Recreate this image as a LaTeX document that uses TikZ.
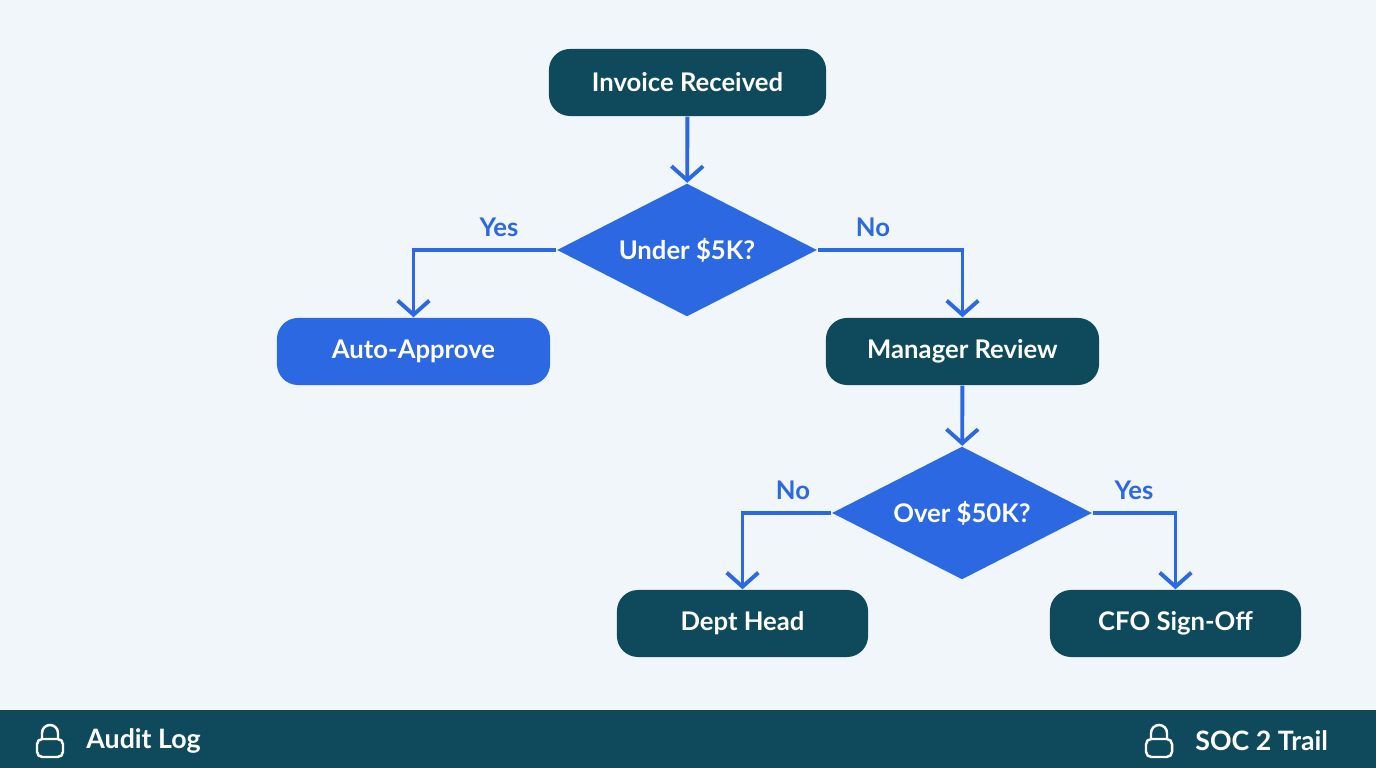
\documentclass[tikz,border=0pt]{standalone}
\usepackage{fontspec}
\setmainfont{Lato}
\usetikzlibrary{shapes.geometric,arrows.meta}
\definecolor{bgc}{HTML}{F1F6FA}
\definecolor{teal}{HTML}{0E4A5C}
\definecolor{blu}{HTML}{2B68E2}
\tikzset{
  box/.style={rectangle, rounded corners=6pt, fill=teal, text=white, minimum height=0.67cm, font=\fontsize{7.3}{9}\selectfont\bfseries},
  bbox/.style={box, fill=blu},
  dec/.style={diamond, aspect=1.95, fill=blu, text=white, inner sep=0pt, minimum width=2.6cm, minimum height=1.33cm, font=\fontsize{7.3}{9}\selectfont\bfseries},
  flow/.style={draw=blu, line width=1.1pt, -{Straight Barb[length=4pt,width=9pt,line width=1.1pt]}},
  lbl/.style={text=blu, font=\fontsize{7.3}{9}\selectfont\bfseries},
  foot/.style={text=white, anchor=west, font=\fontsize{7.6}{9}\selectfont\bfseries}
}
\newcommand{\lockicon}[2]{%
  \draw[white, line width=0.7pt, rounded corners=1.5pt] (#1-13,#2-6) rectangle (#1+13,#2+12);
  \draw[white, line width=0.7pt] (#1-8,#2-6) -- (#1-8,#2-12) arc (180:360:8) -- (#1+8,#2-6);}
\begin{document}
\begin{tikzpicture}[x=0.01cm,y=-0.01cm]
  \fill[bgc] (0,0) rectangle (1376,768);
  \useasboundingbox (0,0) rectangle (1376,768);
  \fill[teal] (0,710) rectangle (1376,768);

  \node[box, minimum width=2.77cm] (inv) at (687.5,82.5) {Invoice Received};
  \node[dec] (five) at (687,250) {Under \$5K?};
  \node[bbox, minimum width=2.73cm] (auto) at (413.5,351.5) {Auto-Approve};
  \node[box, minimum width=2.73cm] (mgr) at (962.5,351.5) {Manager Review};
  \node[dec] (fifty) at (962,513) {Over \$50K?};
  \node[box, minimum width=2.51cm] (dept) at (742.5,623.5) {Dept Head};
  \node[box, minimum width=2.51cm] (cfo) at (1175.5,623.5) {CFO Sign-Off};

  \draw[flow] (inv) -- (five);
  \draw[flow] (five.west) -| (auto);
  \draw[flow] (five.east) -| (mgr);
  \draw[flow] (mgr) -- (fifty);
  \draw[flow] (fifty.west) -| (dept);
  \draw[flow] (fifty.east) -| (cfo);

  \node[lbl] (yes1) at (499,227) {Yes};
  \node[lbl] (no1) at (873,227) {No};
  \node[lbl] (no2) at (793,490) {No};
  \node[lbl] (yes2) at (1134,490) {Yes};

  \lockicon{50}{745}
  \node[foot] (audit) at (74,741) {Audit Log};
  \lockicon{1159}{745}
  \node[foot] (soc) at (1183,741) {SOC 2 Trail};
\end{tikzpicture}
\end{document}
